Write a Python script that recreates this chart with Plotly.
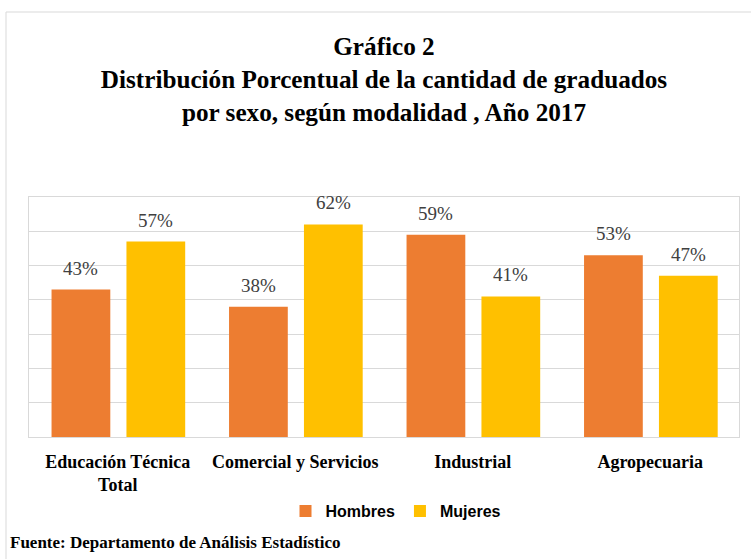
import plotly.graph_objects as go

categories = ["Educación Técnica<br>Total", "Comercial y Servicios", "Industrial", "Agropecuaria"]
hombres = [43, 38, 59, 53]
mujeres = [57, 62, 41, 47]
series_names = ["Hombres", "Mujeres"]
colors = ["#ED7D31", "#FFC000"]

W, H = 751, 559
L, R, T, B = 29, 12, 197, 122

bar_width = 0.331
offsets = [-0.373, 0.049]

fig = go.Figure()
for name, vals, col, off in zip(series_names, [hombres, mujeres], colors, offsets):
    fig.add_trace(go.Bar(
        name=f"<b>{name}</b>", x=categories, y=vals, marker_color=col,
        width=bar_width, offset=off, marker_line_width=0,
    ))

annotations = []
for vals, off in zip([hombres, mujeres], offsets):
    for j, v in enumerate(vals):
        annotations.append(dict(
            x=j + off + bar_width / 2, y=v, xref="x", yref="y",
            text=f"{v}%", showarrow=False, yanchor="bottom", yshift=9,
            font=dict(family="Liberation Serif, Times New Roman, serif", size=19, color="#404040"),
        ))

pw, ph = W - L - R, H - T - B

annotations.append(dict(
    x=(8 - L) / pw, y=(H - B - 542) / ph, xref="paper", yref="paper",
    text="<b>Fuente: Departamento de Análisis Estadístico</b>", showarrow=False,
    xanchor="left", yanchor="middle",
    font=dict(family="Liberation Serif, Times New Roman, serif", size=17, color="#000000"),
))

shapes = [dict(
    type="rect", xref="paper", yref="paper",
    x0=(6 - L) / pw, x1=1.2, y0=-1.5, y1=(H - B - 12) / ph,
    line=dict(color="#D9D9D9", width=1), fillcolor="rgba(0,0,0,0)", layer="below",
)]

fig.update_layout(
    width=W, height=H,
    margin=dict(l=L, r=R, t=T, b=B, pad=0),
    paper_bgcolor="white", plot_bgcolor="white",
    barmode="group",
    title=dict(
        text="<b>Gráfico 2<br>Distribución Porcentual de la cantidad de graduados<br>por sexo, según modalidad , Año 2017</b>",
        x=0.5, xanchor="center", xref="paper",
        y=1 - 55 / H, yanchor="middle", yref="container",
        font=dict(family="Liberation Serif, Times New Roman, serif", size=25.2, color="#000000"),
    ),
    xaxis=dict(
        showgrid=False, showline=True, linecolor="#D9D9D9", linewidth=1, mirror=True,
        ticks="", ticklabelstandoff=8,
        tickfont=dict(family="Liberation Serif, Times New Roman, serif", size=18, color="#000000"),
        tickprefix="<b>", ticksuffix="</b>",
    ),
    yaxis=dict(
        range=[0, 70], dtick=10, showticklabels=False, showgrid=True, gridcolor="#D9D9D9",
        zeroline=False, showline=True, linecolor="#D9D9D9", mirror=True, ticks="",
    ),
    legend=dict(
        orientation="h", x=(396 - L) / pw, xanchor="center",
        y=(H - B - 511) / ph, yanchor="middle",
        font=dict(family="Liberation Sans, Arial, sans-serif", size=16, color="#000000"),
        traceorder="normal",
    ),
    showlegend=True,
    annotations=annotations,
    shapes=shapes,
)

fig.write_html("out.html")
